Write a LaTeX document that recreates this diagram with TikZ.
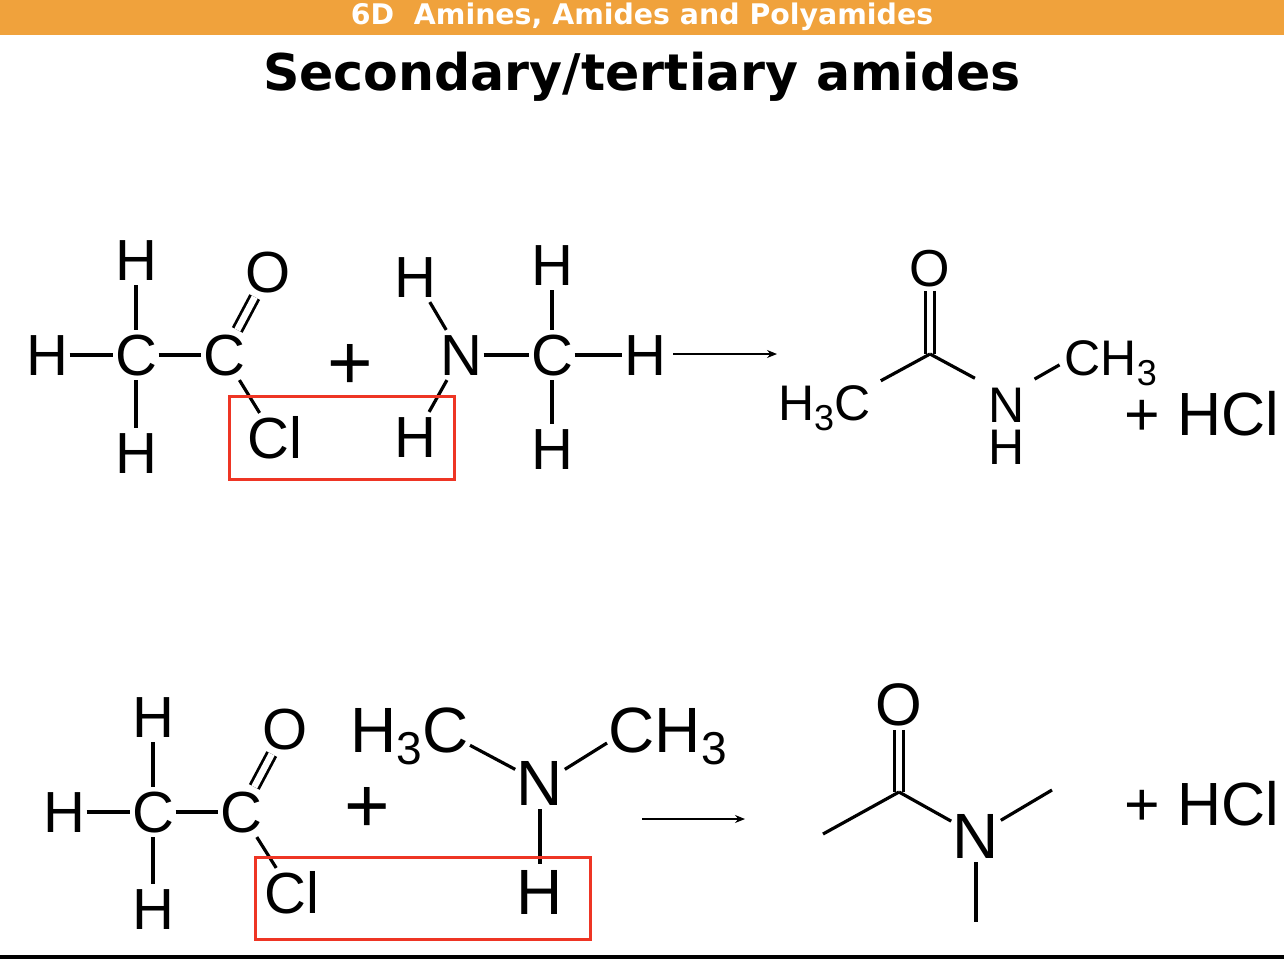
\documentclass[tikz,border=0pt]{standalone}
\usepackage{fontspec}
\usepackage{graphicx}
\setmainfont{Liberation Sans}
\newfontfamily\headfont{DejaVu Sans}
\usetikzlibrary{arrows.meta}
\definecolor{headbar}{HTML}{F0A23C}
\definecolor{boxred}{HTML}{EE3524}
\newcommand{\subthree}{\raisebox{-.2em}{\scalebox{.72}{3}}}
\tikzset{
  x=1pt,y=-1pt,
  atom/.style={inner xsep=1.5pt,inner ysep=4pt,text height=\dimexpr #1pt*72/100\relax,text depth=0pt,font=\fontsize{#1}{#1}\selectfont},
  atom/.default=58,
  bond/.style={line width=3.2pt,black},
  dbond/.style={double=white,double distance=6.5pt,line width=2.8pt,black},
  plussign/.style={inner sep=0pt,font=\fontsize{78}{78}\selectfont},
  byprod/.style={inner sep=0pt,text height=43pt,text depth=0pt,font=\fontsize{61}{61}\selectfont},
  rxn/.style={line width=1.3pt,-{Stealth[length=10pt,width=8pt]}},
  redbox/.style={draw=boxred,line width=3pt,inner sep=0pt,anchor=north west,fill=none},
}
\begin{document}
\begin{tikzpicture}
\useasboundingbox (0,0) rectangle (1284,959);
\fill[white] (0,0) rectangle (1284,959);
\node[fill=headbar,minimum width=1284pt,minimum height=35pt,inner sep=0pt,anchor=north west] (bar) at (0,0) {};
\node[inner sep=0pt,text=white,font=\headfont\bfseries\fontsize{28.4}{28}\selectfont] (head) at (642,17) {6D\ \ Amines, Amides and Polyamides};
\node[inner sep=0pt,font=\headfont\bfseries\fontsize{50.6}{50}\selectfont] (title) at (642,77) {Secondary/tertiary amides};
\node[fill=black,minimum width=1284pt,minimum height=4pt,inner sep=0pt,anchor=north west] (rule) at (0,955) {};

% top reactants
\node[atom] (a1) at (136,260) {H};
\node[atom] (a2) at (47,355) {H};
\node[atom] (a3) at (136,355) {C};
\node[atom] (a4) at (224,355) {C};
\node[atom] (a5) at (268,272) {O};
\node[atom] (a6) at (275,438) {Cl};
\node[atom] (a7) at (136,453) {H};
\node[plussign] (a8) at (350,367) {+};
\node[atom] (a9) at (415,277) {H};
\node[atom] (a10) at (461,355) {N};
\node[atom] (a11) at (415,437) {H};
\node[atom] (a12) at (552,355) {C};
\node[atom] (a13) at (552,265) {H};
\node[atom] (a14) at (645,355) {H};
\node[atom] (a15) at (552,449) {H};
\draw[bond] (a1)--(a3);\draw[bond] (a2)--(a3);\draw[bond] (a3)--(a4);\draw[bond] (a3)--(a7);
\draw[bond] (a4)--(a6);\draw[dbond] (a4)--(a5);
\draw[bond] (a9)--(a10);\draw[bond] (a10)--(a11);\draw[bond] (a10)--(a12);
\draw[bond] (a12)--(a13);\draw[bond] (a12)--(a14);\draw[bond] (a12)--(a15);
\node[redbox,minimum width=225pt,minimum height=83pt] (r1) at (228,395) {};
\coordinate (ar1s) at (673,354);\coordinate (ar1e) at (777,354);
\draw[rxn] (ar1s)--(ar1e);

% top product
\coordinate (p0) at (930,354);
\node[atom=52] (p1) at (930,268) {O};
\node[atom=50,anchor=east] (p2) at (872,402) {H\subthree C};
\node[atom=50] (p3) at (1007,404) {N};
\node[atom=50,inner ysep=0pt] (p4) at (1007,446) {H};
\node[atom=50,anchor=west] (p5) at (1063,357) {CH\subthree};
\draw[dbond] (p1)--(p0);
\draw[bond,shorten >=10pt] (p0)--(p2.19);
\draw[bond,shorten >=14pt] (p0)--(p3.136);
\draw[bond,shorten <=9pt,shorten >=4pt] (p3.46)--(p5.187);
\node[byprod,anchor=east] (p6) at (1279,414) {+ HCl};

% bottom reactants
\node[atom] (b1) at (153,717) {H};
\node[atom] (b2) at (64,812) {H};
\node[atom] (b3) at (153,812) {C};
\node[atom] (b4) at (241,812) {C};
\node[atom] (b5) at (285,729) {O};
\node[atom] (b6) at (292,893) {Cl};
\node[atom] (b7) at (153,909) {H};
\node[plussign] (b8) at (367,810) {+};
\node[atom=64,anchor=east] (b9) at (470,729) {H\subthree C};
\node[atom=64] (b10) at (540,782) {N};
\node[atom=64,anchor=west] (b11) at (607,729) {CH\subthree};
\node[atom=64] (b12) at (540,891) {H};
\draw[bond] (b1)--(b3);\draw[bond] (b2)--(b3);\draw[bond] (b3)--(b4);\draw[bond] (b3)--(b7);
\draw[bond] (b4)--(b6);\draw[dbond] (b4)--(b5);
\draw[bond] (b9.-15)--(b10.153);\draw[bond] (b10.27)--(b11.193);\draw[bond] (b10)--(b12);
\node[redbox,minimum width=335pt,minimum height=82pt] (r2) at (254,856) {};
\coordinate (ar2s) at (642,819);\coordinate (ar2e) at (745,819);
\draw[rxn] (ar2s)--(ar2e);

% bottom product
\coordinate (q0) at (899,792);
\coordinate (q2) at (823,834);
\coordinate (q4) at (1052,790);
\coordinate (q5) at (976,922);
\node[atom=60] (q1) at (899,704) {O};
\node[atom=64] (q3) at (976,835) {N};
\draw[dbond] (q1)--(q0);
\draw[bond] (q0)--(q2);
\draw[bond] (q0)--(q3);
\draw[bond] (q3)--(q4);
\draw[bond] (q3)--(q5);
\node[byprod,anchor=east] (q6) at (1279,804) {+ HCl};
\end{tikzpicture}
\end{document}
